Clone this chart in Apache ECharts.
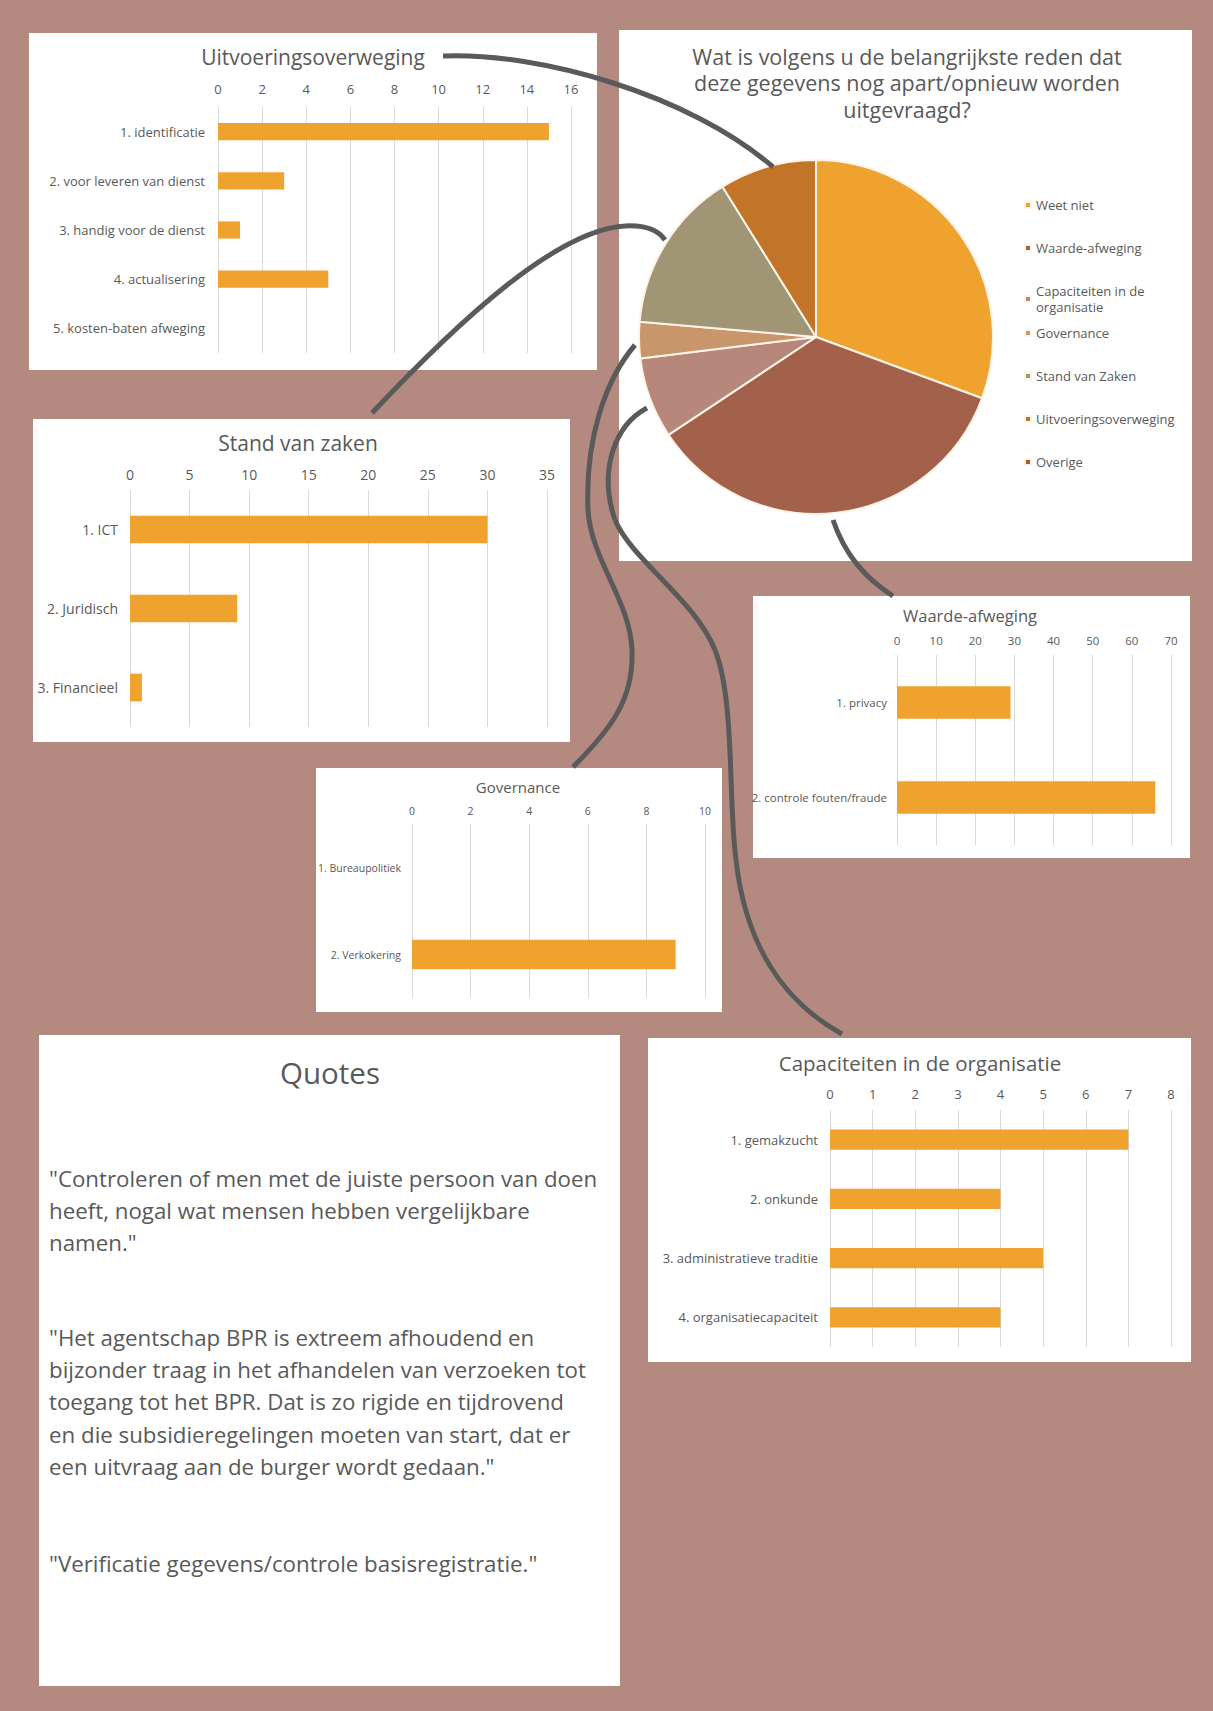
<!DOCTYPE html>
<html>
<head>
<meta charset="utf-8">
<script src="https://cdn.jsdelivr.net/npm/echarts@6/dist/echarts.min.js"></script>
<style>
html,body{margin:0;padding:0;background:#b48a80;}
#c{width:1213px;height:1711px;}
</style>
</head>
<body>
<div id="c"></div>
<script>
// ---------------- DATA ----------------
const pieTitle = 'Wat is volgens u de belangrijkste reden dat\ndeze gegevens nog apart/opnieuw worden\nuitgevraagd?';
const pieNames = ['Weet niet', 'Waarde-afweging', 'Capaciteiten in de organisatie', 'Governance', 'Stand van Zaken', 'Uitvoeringsoverweging', 'Overige'];
const pieValues = [83, 95, 20, 9, 40, 24, 0];

const uitvTitle = 'Uitvoeringsoverweging';
const uitvCats = ['1. identificatie', '2. voor leveren van dienst', '3. handig voor de dienst', '4. actualisering', '5. kosten-baten afweging'];
const uitvVals = [15, 3, 1, 5, 0];

const standTitle = 'Stand van zaken';
const standCats = ['1. ICT', '2. Juridisch', '3. Financieel'];
const standVals = [30, 9, 1];

const waardeTitle = 'Waarde-afweging';
const waardeCats = ['1. privacy', '2. controle fouten/fraude'];
const waardeVals = [29, 66];

const govTitle = 'Governance';
const govCats = ['1. Bureaupolitiek', '2. Verkokering'];
const govVals = [0, 9];

const capTitle = 'Capaciteiten in de organisatie';
const capCats = ['1. gemakzucht', '2. onkunde', '3. administratieve traditie', '4. organisatiecapaciteit'];
const capVals = [7, 4, 5, 4];

const quotesTitle = 'Quotes';
const quotes = [
  '"Controleren of men met de juiste persoon van doen\nheeft, nogal wat mensen hebben vergelijkbare\nnamen."',
  '"Het agentschap BPR is extreem afhoudend en\nbijzonder traag in het afhandelen van verzoeken tot\ntoegang tot het BPR. Dat is zo rigide en tijdrovend\nen die subsidieregelingen moeten van start, dat er\neen uitvraag aan de burger wordt gedaan."',
  '"Verificatie gegevens/controle basisregistratie."'
];

// ---------------- STYLE / LAYOUT ----------------
const FONT = '"Open Sans", sans-serif';
const TXT = '#595959';
const GRIDC = '#d9d9d9';
const BAR = '#f0a22e';
const pieColors = ['#f0a22e', '#a3604a', '#b8877c', '#c9956a', '#a09676', '#c27428', '#a65b22'];

const barCharts = [
  {title: uitvTitle, cats: uitvCats, vals: uitvVals, max: 16, interval: 2,
   grid: {left: 218, top: 107, width: 353, height: 246}, tPos: [313, 57], tSize: 21, catSize: 13, tickSize: 13, tickMargin: 12, catMargin: 13, bw: '35%'},
  {title: standTitle, cats: standCats, vals: standVals, max: 35, interval: 5,
   grid: {left: 130, top: 490, width: 417, height: 237}, tPos: [298, 443], tSize: 21, catSize: 14, tickSize: 14, tickMargin: 9, catMargin: 12, bw: '35%'},
  {title: waardeTitle, cats: waardeCats, vals: waardeVals, max: 70, interval: 10,
   grid: {left: 897, top: 655, width: 274, height: 190}, tPos: [970, 615], tSize: 16.5, catSize: 11.5, tickSize: 11.5, tickMargin: 9, catMargin: 10, bw: '34%'},
  {title: govTitle, cats: govCats, vals: govVals, max: 10, interval: 2,
   grid: {left: 412, top: 824, width: 293, height: 174}, tPos: [518, 787], tSize: 15, catSize: 10.5, tickSize: 10.5, tickMargin: 8, catMargin: 11, bw: '34%'},
  {title: capTitle, cats: capCats, vals: capVals, max: 8, interval: 1,
   grid: {left: 830, top: 1110, width: 341, height: 237}, tPos: [920, 1063], tSize: 20.5, catSize: 13, tickSize: 13, tickMargin: 10, catMargin: 12, bw: '34%'}
];

const panels = [
  [29, 33, 568, 337],    // Uitvoeringsoverweging
  [619, 30, 573, 531],   // pie
  [33, 419, 537, 323],   // Stand van zaken
  [753, 596, 437, 262],  // Waarde-afweging
  [316, 768, 406, 244],  // Governance
  [648, 1038, 543, 324], // Capaciteiten
  [39, 1035, 581, 651]   // Quotes
];

// connector curves: cubic segments [x1,y1, cpx1,cpy1, cpx2,cpy2, x2,y2]
const curveSegs = [
  [443, 56, 540, 52, 690, 95, 773, 167],
  [372, 413, 455, 325, 555, 230, 625, 226],
  [625, 226, 645, 225, 658, 230, 665, 240],
  [635, 345, 605, 380, 585, 440, 588, 510],
  [588, 510, 591, 560, 630, 600, 632, 650],
  [632, 650, 634, 700, 610, 730, 573, 767],
  [647, 408, 615, 425, 598, 470, 615, 520],
  [615, 520, 632, 560, 695, 600, 715, 650],
  [715, 650, 735, 700, 728, 800, 736, 860],
  [736, 860, 745, 940, 780, 1000, 842, 1034],
  [833, 520, 845, 555, 865, 578, 893, 596]
];

const quoteTops = [1162, 1321, 1547];

// ---------------- BUILD OPTION ----------------
const titles = [];
const grids = [];
const xAxes = [];
const yAxes = [];
const series = [];

barCharts.forEach((b, i) => {
  titles.push({
    text: b.title, left: b.tPos[0], top: b.tPos[1], textAlign: 'center', textVerticalAlign: 'middle', padding: 0,
    textStyle: {fontSize: b.tSize, fontWeight: 'normal', color: TXT, fontFamily: FONT}
  });
  grids.push(Object.assign({containLabel: false}, b.grid));
  xAxes.push({
    type: 'value', gridIndex: i, position: 'top', min: 0, max: b.max, interval: b.interval,
    axisLine: {show: false}, axisTick: {show: false},
    splitLine: {show: true, lineStyle: {color: GRIDC, width: 1}},
    axisLabel: {color: TXT, fontSize: b.tickSize, fontFamily: FONT, margin: b.tickMargin}
  });
  yAxes.push({
    type: 'category', gridIndex: i, inverse: true, data: b.cats,
    axisLine: {show: false}, axisTick: {show: false}, splitLine: {show: false},
    axisLabel: {color: TXT, fontSize: b.catSize, fontFamily: FONT, margin: b.catMargin}
  });
  series.push({
    type: 'bar', xAxisIndex: i, yAxisIndex: i, data: b.vals, barWidth: b.bw,
    itemStyle: {color: BAR}, silent: true, z: 3
  });
});

titles.push({
  text: pieTitle, left: 907, top: 82.5, textAlign: 'center', textVerticalAlign: 'middle', padding: 0,
  textStyle: {fontSize: 21.5, lineHeight: 26.5, fontWeight: 'normal', color: TXT, fontFamily: FONT}
});
titles.push({
  text: quotesTitle, left: 330, top: 1072, textAlign: 'center', textVerticalAlign: 'middle', padding: 0,
  textStyle: {fontSize: 29.5, fontWeight: 'normal', color: TXT, fontFamily: FONT}
});

series.push({
  type: 'pie', center: [816, 337], radius: 177, startAngle: 90, clockwise: true,
  label: {show: false}, labelLine: {show: false}, silent: true,
  itemStyle: {borderColor: '#fdf3e7', borderWidth: 2},
  data: pieNames.map((n, k) => ({name: n, value: pieValues[k], itemStyle: {color: pieColors[k]}}))
});

const legendBase = {
  orient: 'vertical', left: 1024, padding: 0, itemGap: 27, itemWidth: 6, itemHeight: 6, icon: 'rect',
  selectedMode: false,
  textStyle: {color: TXT, fontSize: 13, lineHeight: 16, fontFamily: FONT},
  formatter: n => n === 'Capaciteiten in de organisatie' ? 'Capaciteiten in de\norganisatie' : n
};
const legends = [
  Object.assign({}, legendBase, {top: 197, data: pieNames.slice(0, 3)}),
  Object.assign({}, legendBase, {top: 325, data: pieNames.slice(3)})
];

const elements = [];
panels.forEach(p => elements.push({
  type: 'rect', shape: {x: p[0], y: p[1], width: p[2], height: p[3]},
  style: {fill: '#ffffff'}, z: -10, silent: true
}));
curveSegs.forEach(s => elements.push({
  type: 'bezierCurve',
  shape: {x1: s[0], y1: s[1], cpx1: s[2], cpy1: s[3], cpx2: s[4], cpy2: s[5], x2: s[6], y2: s[7]},
  style: {fill: null, stroke: '#5a5a5a', lineWidth: 5}, z: 100, silent: true
}));
quotes.forEach((q, k) => elements.push({
  type: 'text', x: 49, y: quoteTops[k], z: 5, silent: true,
  style: {text: q, fill: TXT, fontSize: 22.3, lineHeight: 32.3, fontFamily: FONT, align: 'left', verticalAlign: 'top'}
}));

const option = {
  animation: false,
  backgroundColor: '#b48a80',
  title: titles,
  legend: legends,
  grid: grids,
  xAxis: xAxes,
  yAxis: yAxes,
  series: series,
  graphic: {elements: elements}
};

const chart = echarts.init(document.getElementById('c'), null, {renderer: 'svg', width: 1213, height: 1711});
chart.setOption(option);
</script>
</body>
</html>
